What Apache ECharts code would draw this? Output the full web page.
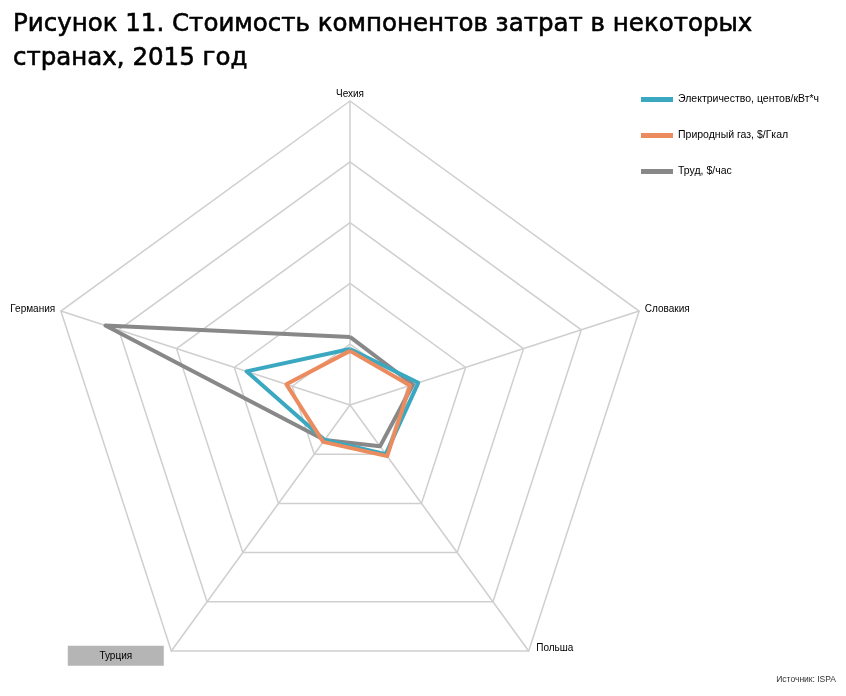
<!DOCTYPE html>
<html>
<head>
<meta charset="utf-8">
<script src="https://cdn.jsdelivr.net/npm/echarts@6/dist/echarts.min.js"></script>
<style>
html,body{margin:0;padding:0;background:#fff;}
#chart{width:846px;height:696px;}
</style>
</head>
<body>
<div id="chart"></div>
<script>
const countries = ['Чехия', 'Германия', 'Турция', 'Польша', 'Словакия'];
const maxValue = 50;
const seriesNames = ['Электричество, центов/кВт*ч', 'Природный газ, $/Гкал', 'Труд, $/час'];
const electricity = [9.2, 17.9, 7.1, 10.0, 11.8];
const naturalGas = [8.9, 11.0, 7.5, 10.4, 10.4];
const labor = [11.2, 42.3, 7.1, 8.4, 10.9];
const colors = ['#3aa8c0', '#ec8b5e', '#888888'];

const chart = echarts.init(document.getElementById('chart'));
chart.setOption({
  backgroundColor: '#ffffff',
  animation: false,
  title: {
    text: 'Рисунок 11. Стоимость компонентов затрат в некоторых\nстранах, 2015 год',
    left: 8,
    top: 3,
    textStyle: {
      fontFamily: 'DejaVu Sans',
      fontSize: 24.5,
      fontWeight: 'normal',
      lineHeight: 34,
      color: '#000000',
      textBorderColor: '#000000',
      textBorderWidth: 0.6
    }
  },
  legend: {
    orient: 'vertical',
    left: 641,
    top: 94,
    padding: 0,
    itemWidth: 32,
    itemHeight: 5,
    itemGap: 25,
    icon: 'rect',
    data: seriesNames,
    textStyle: {
      fontFamily: 'Liberation Sans',
      fontSize: 10.5,
      color: '#000000'
    }
  },
  radar: {
    center: [350, 405],
    radius: 304,
    startAngle: 90,
    splitNumber: 5,
    shape: 'polygon',
    nameGap: 6,
    indicator: countries.map(c => ({ name: c, min: 0, max: maxValue })),
    axisName: {
      color: '#000000',
      fontFamily: 'Liberation Sans',
      fontSize: 10,
      formatter: function (name) {
        if (name === 'Турция') return '{box|' + name + '}{gap| }';
        if (name === 'Чехия') return '{top|' + name + '}';
        if (name === 'Польша') return '{low|' + name + '}';
        return name;
      },
      rich: {
        box: {
          backgroundColor: '#b5b5b5',
          width: 96,
          height: 20,
          lineHeight: 20,
          align: 'center',
          color: '#000000',
          fontFamily: 'Liberation Sans',
          fontSize: 10
        },
        gap: { width: 4, fontSize: 10 },
        top: { lineHeight: 1, color: '#000000', fontFamily: 'Liberation Sans', fontSize: 10 },
        low: { padding: [0, 0, 16, 4], color: '#000000', fontFamily: 'Liberation Sans', fontSize: 10 }
      }
    },
    splitLine: { lineStyle: { color: '#cfcfcf', width: 1.5 } },
    axisLine: { lineStyle: { color: '#cfcfcf', width: 1.5 } },
    splitArea: { show: false },
    axisTick: { show: false },
    axisLabel: { show: false }
  },
  series: [
    {
      type: 'radar',
      symbol: 'none',
      z: 2,
      data: [
        { name: seriesNames[2], value: labor, lineStyle: { color: colors[2], width: 4 }, itemStyle: { color: colors[2] } }
      ]
    },
    {
      type: 'radar',
      symbol: 'none',
      z: 3,
      data: [
        { name: seriesNames[0], value: electricity, lineStyle: { color: colors[0], width: 4 }, itemStyle: { color: colors[0] } }
      ]
    },
    {
      type: 'radar',
      symbol: 'none',
      z: 4,
      data: [
        { name: seriesNames[1], value: naturalGas, lineStyle: { color: colors[1], width: 4 }, itemStyle: { color: colors[1] } }
      ]
    }
  ],
  graphic: [
    {
      type: 'text',
      right: 10,
      top: 675,
      style: {
        text: 'Источник: ISPA',
        fontFamily: 'Liberation Sans',
        fontSize: 8.5,
        fill: '#333333'
      }
    }
  ]
});
</script>
</body>
</html>
